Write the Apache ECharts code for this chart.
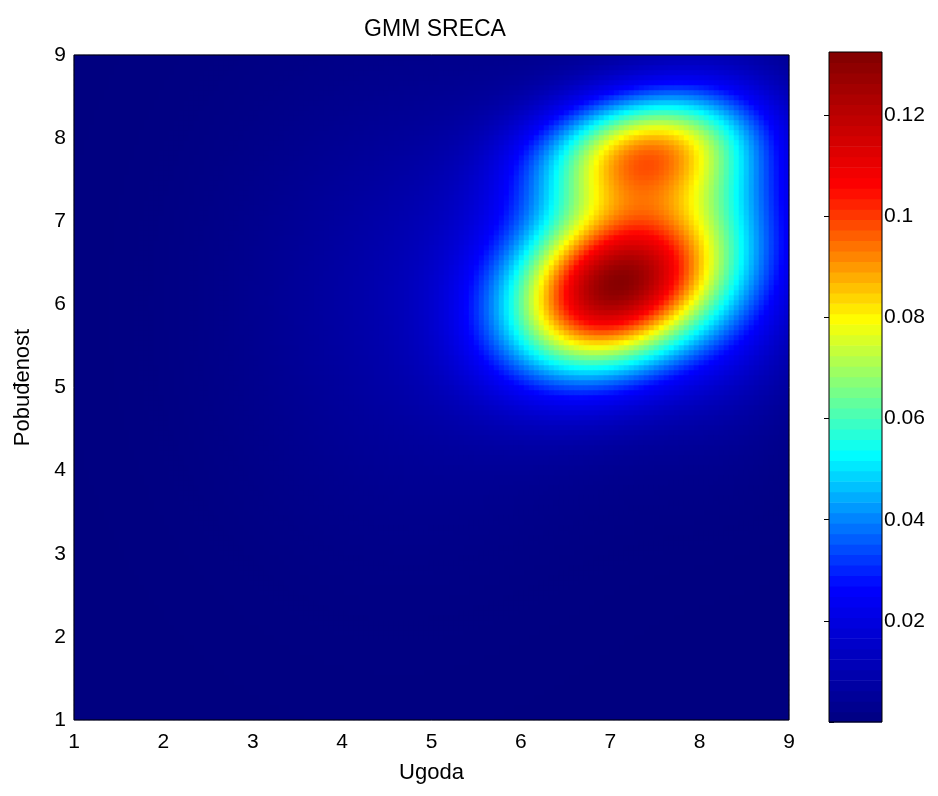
<!DOCTYPE html>
<html>
<head>
<meta charset="utf-8">
<script src="https://cdn.jsdelivr.net/npm/echarts@6/dist/echarts.min.js"></script>
<style>
  html, body { margin: 0; padding: 0; background: #fff; }
  #chart { width: 938px; height: 796px; }
</style>
</head>
<body>
<div id="chart"></div>
<script>
// Axis ticks
const xTicks = [1, 2, 3, 4, 5, 6, 7, 8, 9];
const yTicks = [1, 2, 3, 4, 5, 6, 7, 8, 9];
const colorbarTicks = [0.02, 0.04, 0.06, 0.08, 0.1, 0.12];

// Gaussian mixture components over (Ugoda, Pobuđenost)
const compWeight = [0.358, 0.175, 0.051, 0.132, 0.096, 0.127];
const compMeanX  = [7.05, 7.35, 7.10, 8.30, 4.60, 6.60];
const compMeanY  = [6.20, 7.85, 6.70, 6.80, 6.00, 6.40];
const compSigX   = [0.80, 0.80, 0.95, 0.70, 1.30, 1.30];
const compSigY   = [0.70, 0.50, 0.90, 1.20, 1.80, 1.30];
const compRho    = [0.25, 0.20, 0.30, 0.00, 0.00, 0.00];

// Colour scale limits
const densityMin = 0;
const densityMax = 0.1325;

// Evaluation grid
const xMin = 1, xMax = 9, yMin = 1, yMax = 9;
const NX = 143, NY = 133;

const FONT = "'Liberation Sans', Arial, Helvetica, sans-serif";

function mixtureDensity(x, y) {
  let s = 0;
  for (let k = 0; k < compWeight.length; k++) {
    const sx = compSigX[k], sy = compSigY[k], r = compRho[k];
    const dx = (x - compMeanX[k]) / sx, dy = (y - compMeanY[k]) / sy;
    const q = (dx * dx - 2 * r * dx * dy + dy * dy) / (1 - r * r);
    s += compWeight[k] * Math.exp(-0.5 * q) / (2 * Math.PI * sx * sy * Math.sqrt(1 - r * r));
  }
  return s;
}

const xCats = [], yCats = [];
for (let i = 0; i < NX; i++) xCats.push(i);
for (let j = 0; j < NY; j++) yCats.push(j);

const cells = [];
for (let i = 0; i < NX; i++) {
  const x = xMin + (i + 0.5) * (xMax - xMin) / NX;
  for (let j = 0; j < NY; j++) {
    const y = yMin + (j + 0.5) * (yMax - yMin) / NY;
    cells.push([i, j, mixtureDensity(x, y)]);
  }
}

// 64 discrete bands of the colour bar
const NBANDS = 64;
const bands = [];
for (let b = 0; b < NBANDS; b++) {
  const lo = densityMin + (densityMax - densityMin) * b / NBANDS;
  const hi = densityMin + (densityMax - densityMin) * (b + 1) / NBANDS;
  bands.push([lo, hi, (lo + hi) / 2]);
}

const jet = ['#000080', '#0000ff', '#00ffff', '#ffff00', '#ff0000', '#800000'];

const labelStyle = { color: '#000', fontFamily: FONT, fontSize: 21 };

const chart = echarts.init(document.getElementById('chart'), null, { renderer: 'canvas' });

chart.setOption({
  animation: false,
  backgroundColor: '#fff',
  title: {
    text: 'GMM SRECA',
    left: 430, top: 13, textAlign: 'center',
    textStyle: { color: '#000', fontFamily: FONT, fontSize: 23, fontWeight: 'normal' }
  },
  grid: [
    { left: 74, top: 55, width: 715, height: 665, show: true, borderColor: '#000', borderWidth: 1, backgroundColor: 'transparent', z: 5 },
    { left: 829, top: 52, width: 53, height: 670, show: true, borderColor: '#000', borderWidth: 1, backgroundColor: 'transparent', z: 5 }
  ],
  xAxis: [
    { gridIndex: 0, type: 'category', data: xCats, show: false, boundaryGap: true },
    {
      gridIndex: 0, type: 'value', min: xMin, max: xMax, interval: 1, position: 'bottom',
      name: 'Ugoda', nameLocation: 'middle', nameGap: 42,
      nameTextStyle: Object.assign({}, labelStyle, { fontSize: 22 }),
      axisLine: { show: false }, axisTick: { show: false }, splitLine: { show: false },
      axisLabel: Object.assign({ margin: 12, formatter: v => xTicks.includes(v) ? String(v) : '' }, labelStyle)
    },
    { gridIndex: 1, type: 'value', min: 0, max: 1, show: false }
  ],
  yAxis: [
    { gridIndex: 0, type: 'category', data: yCats, show: false, boundaryGap: true },
    {
      gridIndex: 0, type: 'value', min: yMin, max: yMax, interval: 1, position: 'left',
      name: 'Pobuđenost', nameLocation: 'middle', nameGap: 40, nameRotate: 90,
      nameTextStyle: Object.assign({}, labelStyle, { fontSize: 22 }),
      axisLine: { show: false }, axisTick: { show: false }, splitLine: { show: false },
      axisLabel: Object.assign({ margin: 8, formatter: v => yTicks.includes(v) ? String(v) : '' }, labelStyle)
    },
    {
      gridIndex: 1, type: 'value', min: densityMin, max: densityMax, interval: 0.02, position: 'right',
      axisLine: { show: false }, splitLine: { show: false },
      axisTick: { show: true, inside: true, length: 5, lineStyle: { color: '#000' } },
      axisLabel: Object.assign({
        margin: 2, showMinLabel: false, showMaxLabel: false,
        formatter: v => {
          const hit = colorbarTicks.find(t => Math.abs(t - v) < 1e-9);
          return hit === undefined ? '' : String(hit);
        }
      }, labelStyle)
    },
    {
      gridIndex: 1, type: 'value', min: densityMin, max: densityMax, interval: 0.02, position: 'left',
      axisLine: { show: false }, splitLine: { show: false }, axisLabel: { show: false },
      axisTick: { show: true, inside: true, length: 5, lineStyle: { color: '#000' } }
    }
  ],
  visualMap: {
    show: false, type: 'continuous', min: densityMin, max: densityMax,
    dimension: 2, seriesIndex: [0, 1], inRange: { color: jet }
  },
  series: [
    {
      type: 'heatmap', xAxisIndex: 0, yAxisIndex: 0, data: cells,
      progressive: 0, silent: true, emphasis: { disabled: true }
    },
    {
      type: 'custom', xAxisIndex: 2, yAxisIndex: 2, data: bands, silent: true,
      encode: { y: [0, 1] },
      renderItem: function (params, api) {
        const p0 = api.coord([0, api.value(0)]);
        const p1 = api.coord([1, api.value(1)]);
        return {
          type: 'rect',
          shape: { x: p0[0], y: p1[1], width: p1[0] - p0[0], height: p0[1] - p1[1] + 0.6 },
          style: { fill: api.visual('color') }
        };
      }
    }
  ]
});
</script>
</body>
</html>
